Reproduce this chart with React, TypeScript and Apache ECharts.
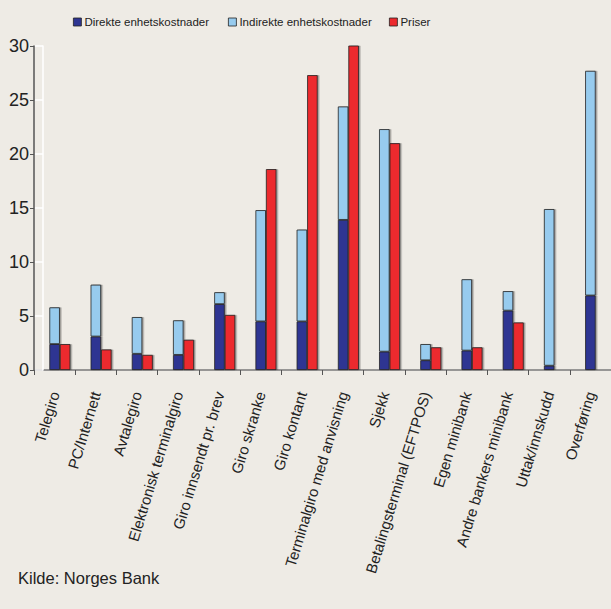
import React, { useEffect, useRef } from "react";
import * as echarts from "echarts";

const categories = [
  "Telegiro",
  "PC/Internett",
  "Avtalegiro",
  "Elektronisk terminalgiro",
  "Giro innsendt pr. brev",
  "Giro skranke",
  "Giro kontant",
  "Terminalgiro med anvisning",
  "Sjekk",
  "Betalingsterminal (EFTPOS)",
  "Egen minibank",
  "Andre bankers minibank",
  "Uttak/innskudd",
  "Overføring",
];
const direkte = [2.4, 3.1, 1.5, 1.4, 6.1, 4.5, 4.5, 13.9, 1.7, 0.9, 1.8, 5.5, 0.4, 6.9];
const indirekte = [3.4, 4.8, 3.4, 3.2, 1.1, 10.3, 8.5, 10.5, 20.6, 1.5, 6.6, 1.8, 14.5, 20.8];
const priser = [2.4, 1.9, 1.4, 2.8, 5.1, 18.6, 27.3, 30.2, 21.0, 2.1, 2.1, 4.4, null, null];
const seriesNames = ["Direkte enhetskostnader", "Indirekte enhetskostnader", "Priser"];
const yTicks = { min: 0, max: 30, interval: 5 };

const FONT = "'Liberation Sans Narrow', 'Liberation Sans', Arial, sans-serif";

export default function App() {
  const ref = useRef<HTMLDivElement>(null);
  useEffect(() => {
    if (!ref.current) return;
    const chart = echarts.init(ref.current, null, { renderer: "svg" });
    const barStyle = (color: string) => ({
      color,
      borderColor: "#222",
      borderWidth: 0.8,
      shadowColor: "rgba(0,0,0,0.35)",
      shadowOffsetX: 1.5,
      shadowOffsetY: 0,
      shadowBlur: 1,
    });
    const legendLefts = [73, 228, 389];
    chart.setOption({
      animation: false,
      backgroundColor: "#eeebe5",
      textStyle: { fontFamily: FONT },
      legend: seriesNames.map((n, i) => ({
        data: [n],
        left: legendLefts[i],
        top: 16,
        padding: 0,
        itemWidth: 8,
        itemHeight: 8,
        icon: "rect",
        itemStyle: { borderColor: "#222", borderWidth: 0.8 },
        textStyle: { fontSize: 11.5, color: "#222", fontFamily: FONT, padding: [0, 0, 0, -2] },
      })),
      grid: { left: 34, right: -2, top: 46, bottom: 239, containLabel: false },
      xAxis: [
        {
          type: "category",
          data: categories,
          axisLine: { lineStyle: { color: "#7a7a7a", width: 1.5 } },
          axisTick: { show: true, length: 5, lineStyle: { color: "#555" }, alignWithLabel: false },
          axisLabel: {
            rotate: 73,
            fontSize: 15,
            color: "#222",
            margin: 22,
            interval: 0,
            fontFamily: FONT,
          },
        },
        {
          type: "category",
          data: categories,
          show: false,
        },
      ],
      yAxis: [
        {
          type: "value",
          min: yTicks.min,
          max: yTicks.max,
          interval: yTicks.interval,
          splitLine: { show: false },
          axisLine: { show: true, lineStyle: { color: "#555", width: 1.5 } },
          axisTick: { show: true, length: 4, lineStyle: { color: "#555" } },
          axisLabel: { fontSize: 18, color: "#222", margin: 5, fontFamily: FONT },
        },
        {
          type: "value",
          min: yTicks.min,
          max: yTicks.max,
          interval: yTicks.interval,
          position: "left",
          offset: -9,
          splitLine: { show: false },
          axisLine: { show: true, lineStyle: { color: "#ffffff", width: 1.5 } },
          axisTick: { show: true, length: 8, lineStyle: { color: "#ffffff", width: 1.5 } },
          axisLabel: { show: false },
          z: 1,
        },
      ],
      series: [
        {
          name: seriesNames[0],
          type: "bar",
          stack: "kost",
          xAxisIndex: 0,
          barWidth: 10.5,
          data: direkte,
          itemStyle: barStyle("#2e3592"),
          z: 3,
        },
        {
          name: seriesNames[1],
          type: "bar",
          stack: "kost",
          xAxisIndex: 0,
          barWidth: 10.5,
          data: indirekte,
          itemStyle: barStyle("#97cbee"),
          z: 3,
        },
        {
          name: "",
          type: "bar",
          xAxisIndex: 1,
          barWidth: 10.5,
          barGap: "100%",
          data: categories.map(() => null),
        },
        {
          name: seriesNames[2],
          type: "bar",
          xAxisIndex: 1,
          barWidth: 10.5,
          barGap: "100%",
          data: priser,
          itemStyle: barStyle("#ec2a2e"),
          z: 3,
        },
      ],
      graphic: [
        {
          type: "text",
          left: 18,
          top: 569,
          style: { text: "Kilde: Norges Bank", fontSize: 16.5, fill: "#222", fontFamily: FONT },
        },
      ],
    });
    return () => chart.dispose();
  }, []);
  return <div ref={ref} style={{ width: 611, height: 609, position: "absolute", left: 0, top: 0 }} />;
}
